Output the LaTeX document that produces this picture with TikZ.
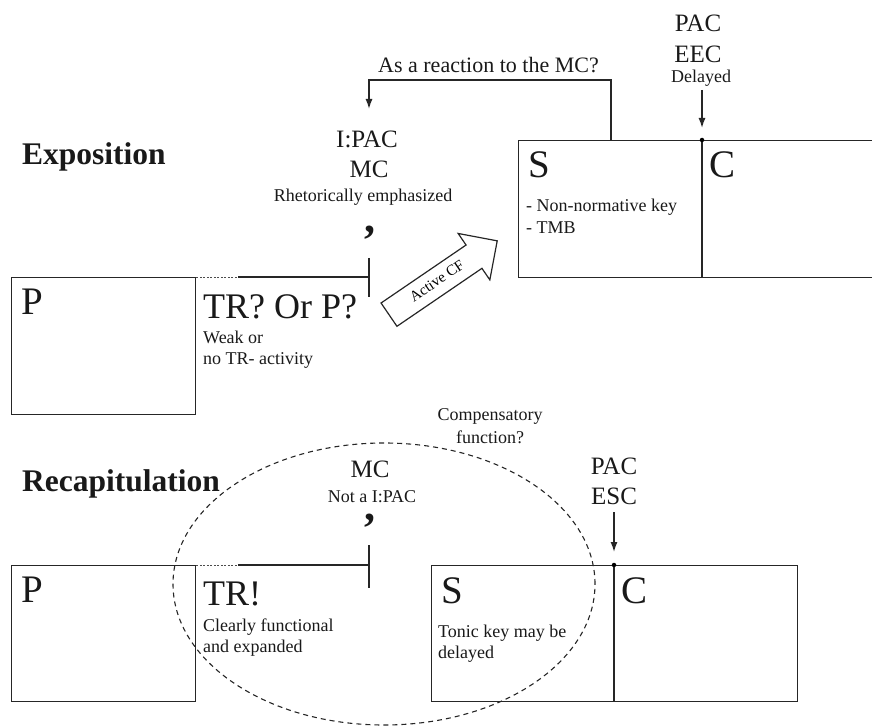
\documentclass[tikz,border=0pt]{standalone}
\usepackage{fontspec}
\setmainfont{Liberation Serif}
\usetikzlibrary{arrows.meta,shapes.arrows}
\newcommand{\fsz}[1]{\fontsize{#1}{#1}\selectfont}
\begin{document}
\begin{tikzpicture}[x=1pt,y=-1pt,
  ln/.style={line width=1.4pt, draw=black!85},
  boxstyle/.style={ln, rectangle, inner sep=0pt, anchor=north west},
  txt/.style={inner sep=0pt, text=black!90},
  big/.style={txt, font=\fsz{36}},
  boxlab/.style={txt, font=\fsz{39}},
  mid/.style={txt, font=\fsz{25}},
  small/.style={txt, font=\fsz{18}},
  head/.style={txt, font=\bfseries\fsz{31.5}},
  commast/.style={txt, font=\bfseries\fsz{44}},
  arr/.style={ln, -{Latex[length=10pt,width=7pt]}},
  dotline/.style={line width=1pt, draw=black!70, dash pattern=on 2pt off 1.5pt},
  dotj/.style={circle, fill=black, inner sep=0pt, minimum size=4.5pt},
  ellst/.style={line width=1.1pt, draw=black!85, dash pattern=on 5pt off 4pt},
]
\useasboundingbox (0,0) rectangle (872,727);

% ---------------- Exposition ----------------
\node[head, anchor=base west] (expo) at (22,165) {Exposition};

\node[boxstyle, minimum width=184pt, minimum height=137pt] (pE) at (11,277) {};
\node[boxlab, anchor=base west] (pElab) at (21,314) {P};
\coordinate (dE1) at (238,277);
\coordinate (tickE) at (369,277);
\coordinate (tickEt) at (369,258);
\coordinate (tickEb) at (369,297);
\draw[dotline] (pE.north east) -- (dE1);
\draw[ln] (dE1) -- (tickE);
\draw[ln] (tickEt) -- (tickEb);
\node[commast] (comE) at (370,233) {,};

\node[big, anchor=base west] (trE) at (203,318) {TR? Or P?};
\node[small, anchor=base west] (weak1) at (203,343) {Weak or};
\node[small, anchor=base west] (weak2) at (203,364) {no TR- activity};

\node[mid, anchor=base] (ipac) at (367,148) {I:PAC};
\node[mid, anchor=base] (mcE) at (369,178) {MC};
\node[small, anchor=base] (rhet) at (363,202) {Rhetorically emphasized};

\node[boxstyle, minimum width=370pt, minimum height=137pt] (sE) at (518,140) {};
\coordinate (divEt) at (702,140);
\coordinate (divEb) at (702,277);
\draw[ln] (divEt) -- (divEb);
\node[boxlab, anchor=base west] (sElab) at (528,178) {S};
\node[boxlab, anchor=base west] (cElab) at (709,178) {C};
\node[small, anchor=base west] (nn) at (526,212) {- Non-normative key};
\node[small, anchor=base west] (tmb) at (526,234) {- TMB};

\node[mid, anchor=base] (pacE) at (698,32) {PAC};
\node[mid, anchor=base] (eec) at (698,63) {EEC};
\node[small, anchor=base] (delayed) at (701,83) {Delayed};
\coordinate (arrEs) at (702,90);
\draw[arr, shorten >=12pt] (arrEs) -- (divEt);
\node[dotj] (dotE) at (divEt) {};

\coordinate (reacS) at (611,140);
\coordinate (reacC) at (611,80);
\coordinate (reacT) at (369,109);
\draw[arr] (reacS) -- (reacC) -| (reacT);
\node[txt, font=\fsz{22}, anchor=base west] (reac) at (378,73) {As a reaction to the MC?};

\node[draw=black!85, line width=1.2pt, single arrow, single arrow head extend=14pt,
  single arrow tip angle=90, minimum height=131pt, text height=10.5pt, text depth=2.5pt,
  inner ysep=7pt, inner xsep=2pt, font=\fsz{15}, rotate=34.3, anchor=tail] (acf)
  at (388.5,315) {Active CF};

% ---------------- Recapitulation ----------------
\node[head, anchor=base west] (recap) at (22,491) {Recapitulation};

\node[boxstyle, minimum width=184pt, minimum height=136pt] (pR) at (11,565) {};
\node[boxlab, anchor=base west] (pRlab) at (21,602) {P};
\coordinate (dR1) at (238,565);
\coordinate (tickR) at (369,565);
\coordinate (tickRt) at (369,545);
\coordinate (tickRb) at (369,588);
\draw[dotline] (pR.north east) -- (dR1);
\draw[ln] (dR1) -- (tickR);
\draw[ln] (tickRt) -- (tickRb);
\node[commast] (comR) at (370,521) {,};

\node[mid, anchor=base] (mcR) at (370,477) {MC};
\node[small, anchor=base] (notipac) at (372,502) {Not a I:PAC};

\node[big, anchor=base west] (trR) at (203,605) {TR!};
\node[small, anchor=base west] (clr1) at (203,631) {Clearly functional};
\node[small, anchor=base west] (clr2) at (203,652) {and expanded};

\node[boxstyle, minimum width=366pt, minimum height=136pt] (sR) at (431,565) {};
\coordinate (divRt) at (614,565);
\coordinate (divRb) at (614,701);
\draw[ln] (divRt) -- (divRb);
\node[boxlab, anchor=base west] (sRlab) at (441,603) {S};
\node[boxlab, anchor=base west] (cRlab) at (621,603) {C};
\node[small, anchor=base west] (tonic1) at (438,637) {Tonic key may be};
\node[small, anchor=base west] (tonic2) at (438,658) {delayed};

\node[mid, anchor=base] (pacR) at (614,474) {PAC};
\node[mid, anchor=base] (esc) at (614,504) {ESC};
\coordinate (arrRs) at (614,512);
\draw[arr, shorten >=13pt] (arrRs) -- (divRt);
\node[dotj] (dotR) at (divRt) {};

\node[small, anchor=base] (comp1) at (490,420) {Compensatory};
\node[small, anchor=base] (comp2) at (490,443) {function?};

\draw[ellst] (384,584) ellipse [x radius=211pt, y radius=141pt];
\end{tikzpicture}
\end{document}
